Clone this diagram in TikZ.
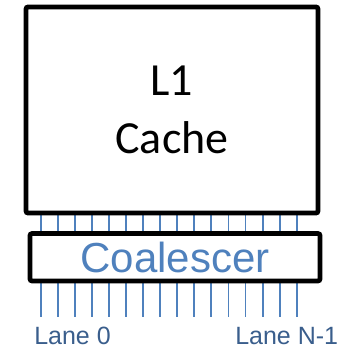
\documentclass[tikz,border=0pt]{standalone}
\usepackage{fontspec}
\setmainfont{Carlito}
\newfontfamily\arialfont{Liberation Sans}
\usetikzlibrary{positioning,backgrounds}
\definecolor{lanecolor}{RGB}{79,129,189}
\definecolor{labelblue}{RGB}{58,94,140}

\begin{document}
\begin{tikzpicture}[x=0.75pt, y=0.75pt,
    blockbox/.style={draw=black, line width=3.5pt, rounded corners=1.5pt, inner sep=0pt},
    lane/.style={draw=lanecolor, line width=1.4pt}]
  % page: 342 x 350 px, y counted from the bottom
  \useasboundingbox (0,0) rectangle (342,350);

  % L1 cache
  \node[blockbox, minimum width=219pt, minimum height=154.6pt, align=center,
    font=\fontsize{34.5}{43}\selectfont] (cache) at (172,240) {L1\\Cache};

  % Coalescer
  \node[blockbox, minimum width=217.5pt, minimum height=35.6pt,
    font=\arialfont\fontsize{31.5}{36}\selectfont, text=lanecolor] (coal) at (175,92.75) {Coalescer};

  % Lane labels
  \coordinate (laneend) at (0,33);
  \node[font=\arialfont\fontsize{18.75}{22}\selectfont, text=labelblue, anchor=base west, inner sep=0pt]
    (lane0) at (34,6) {Lane 0};
  \node[font=\arialfont\fontsize{18.75}{22}\selectfont, text=labelblue, anchor=base west, inner sep=0pt]
    (laneN) at (235,6) {Lane N-1};

  % Lanes
  \begin{scope}[on background layer]
    \foreach \i in {0,...,15}{
      \pgfmathsetmacro\lx{40.7+17.07*\i}
      \draw[lane] (cache.south -| \lx,0) -- (coal.north -| \lx,0);
      \draw[lane] (coal.south -| \lx,0) -- (laneend -| \lx,0);
    }
  \end{scope}
\end{tikzpicture}
\end{document}
